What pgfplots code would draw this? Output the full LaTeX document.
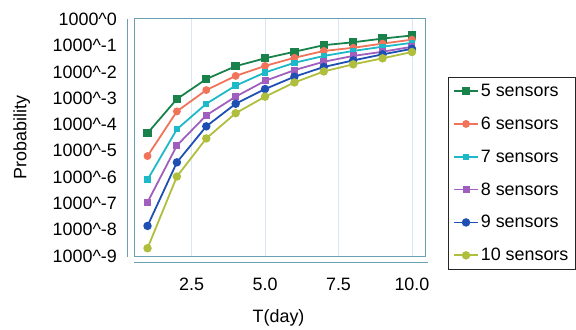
\documentclass[border=0pt]{standalone}
\usepackage{pgfplots}
\pgfplotsset{compat=1.18}
\usepackage{fontspec}
\setmainfont{Liberation Sans}
\definecolor{cA}{RGB}{25,130,75}
\definecolor{cB}{RGB}{240,115,90}
\definecolor{cC}{RGB}{30,185,200}
\definecolor{cD}{RGB}{160,95,190}
\definecolor{cE}{RGB}{30,80,180}
\definecolor{cF}{RGB}{175,190,60}
\definecolor{frame}{RGB}{105,160,180}
\definecolor{gridc}{RGB}{220,230,242}
\begin{document}
\begin{tikzpicture}
\begin{axis}[
  scale only axis, width=293pt, height=239pt,
  xmin=0.55, xmax=10.47, ymin=-9.03, ymax=0.02,
  xtick={2.5,5,7.5,10}, xticklabels={2.5,5.0,7.5,10.0},
  ytick={-9,-8,-7,-6,-5,-4,-3,-2,-1,0},
  yticklabels={1000\textasciicircum-9,1000\textasciicircum-8,1000\textasciicircum-7,1000\textasciicircum-6,1000\textasciicircum-5,1000\textasciicircum-4,1000\textasciicircum-3,1000\textasciicircum-2,1000\textasciicircum-1,1000\textasciicircum 0},
  major tick length=0pt,
  tick label style={font=\fontsize{18}{20}\selectfont},
  xticklabel style={yshift=-18pt},
  yticklabel style={xshift=-14pt},
  axis line style={frame, line width=1pt},
  xmajorgrids, grid style={gridc, line width=0.8pt},
  xlabel={T(day)}, ylabel={Probability},
  label style={font=\fontsize{18}{20}\selectfont},
  x label style={at={(axis description cs:0.495,-0.258)}, anchor=center},
  y label style={at={(axis description cs:-0.386,0.5)}, anchor=center},
  clip=false,
  legend style={at={(axis description cs:1.075,0.757)}, anchor=north west,
    draw=black!85, line width=1.2pt, font=\fontsize{18}{20}\selectfont,
    row sep=15pt, inner sep=5pt},
  legend cell align=left,
  legend image code/.code={\draw[mark repeat=2,mark phase=2] plot coordinates {(0pt,0pt) (12pt,0pt) (24pt,0pt)};},
]
\addplot[cA, line width=1.8pt, mark=square*, mark size=3.3pt] coordinates {(1,-4.33)(2,-3.03)(3,-2.27)(4,-1.78)(5,-1.48)(6,-1.23)(7,-0.98)(8,-0.87)(9,-0.73)(10,-0.61)};
\addplot[cB, line width=1.8pt, mark=*, mark size=3pt] coordinates {(1,-5.2)(2,-3.5)(3,-2.69)(4,-2.15)(5,-1.77)(6,-1.46)(7,-1.2)(8,-1.08)(9,-0.92)(10,-0.77)};
\addplot[cC, line width=1.8pt, mark=square*, mark size=2.3pt] coordinates {(1,-6.1)(2,-4.18)(3,-3.21)(4,-2.52)(5,-2.02)(6,-1.65)(7,-1.39)(8,-1.2)(9,-1.04)(10,-0.89)};
\addplot[cD, line width=1.8pt, mark=square*, mark size=2.6pt] coordinates {(1,-6.96)(2,-4.8)(3,-3.65)(4,-2.94)(5,-2.34)(6,-1.93)(7,-1.61)(8,-1.39)(9,-1.23)(10,-1.04)};
\addplot[cE, line width=1.8pt, mark=*, mark size=3.3pt] coordinates {(1,-7.86)(2,-5.44)(3,-4.07)(4,-3.21)(5,-2.65)(6,-2.18)(7,-1.81)(8,-1.56)(9,-1.33)(10,-1.12)};
\addplot[cF, line width=1.8pt, mark=*, mark size=3.3pt] coordinates {(1,-8.71)(2,-5.98)(3,-4.53)(4,-3.57)(5,-2.94)(6,-2.4)(7,-1.98)(8,-1.71)(9,-1.48)(10,-1.24)};
\legend{5 sensors,6 sensors,7 sensors,8 sensors,9 sensors,10 sensors}
\coordinate (bl) at (rel axis cs:0,0);
\coordinate (tl) at (rel axis cs:0,1);
\coordinate (br) at (rel axis cs:1,0);
\end{axis}
\draw[frame, line width=1pt] ([xshift=-7pt]tl) -- ([xshift=-7pt]bl);
\draw[frame, line width=1pt] ([yshift=-6pt]bl) -- ([yshift=-6pt,xshift=2pt]br);
\useasboundingbox ([xshift=-135pt,yshift=-73pt]bl) rectangle ++(576pt,331pt);
\end{tikzpicture}
\end{document}
